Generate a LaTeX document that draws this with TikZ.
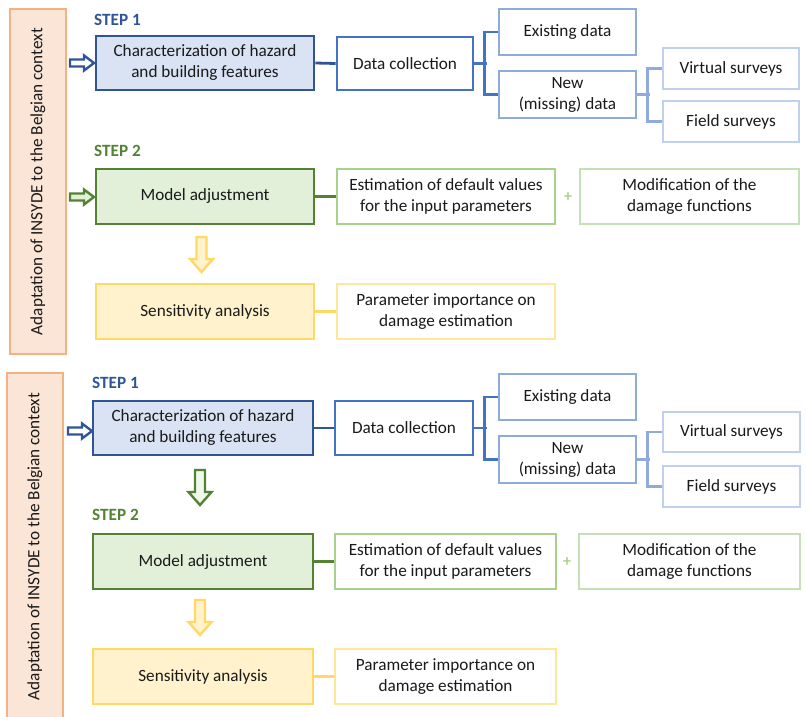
\documentclass[tikz,border=0pt]{standalone}
\usepackage{fontspec}
\setmainfont{Carlito}
\definecolor{orbd}{HTML}{F4B183}
\definecolor{orfill}{HTML}{FBE5D6}
\definecolor{bdark}{HTML}{2F5597}
\definecolor{bfill}{HTML}{DAE3F3}
\definecolor{bmid}{HTML}{4472C4}
\definecolor{blight}{HTML}{8FAADC}
\definecolor{bpale}{HTML}{C0D0EE}
\definecolor{gdark}{HTML}{548235}
\definecolor{gfill}{HTML}{E2F0D9}
\definecolor{gmid}{HTML}{A9D18E}
\definecolor{glight}{HTML}{C5E0B4}
\definecolor{ydark}{HTML}{FFD966}
\definecolor{yfill}{HTML}{FFF2CC}
\definecolor{ylight}{HTML}{FFE699}
\definecolor{txt}{HTML}{1A1A1A}
\begin{document}
\begin{tikzpicture}[x=1pt,y=-1pt,
  font=\fontsize{17.2}{21}\selectfont, text=txt,
  box/.style={draw, rectangle, line width=2.8pt, align=center, inner sep=0pt, fill=white},
  side/.style={draw=orbd, fill=orfill, line width=2pt, rectangle, inner sep=0pt, minimum width=56pt},
  steplbl/.style={anchor=west, font=\fontsize{17.2}{21}\selectfont\bfseries, inner sep=0pt},
  conn/.style={line width=2.8pt},
  rarrow/.pic={\path[pic actions] (0,-3.5) -- (14,-3.5) -- (14,-7.5) -- (24,0) -- (14,7.5) -- (14,3.5) -- (0,3.5) -- cycle;},
  darrow/.pic={\path[pic actions] (-5,0) -- (-5,22) -- (-11.5,22) -- (0,35) -- (11.5,22) -- (5,22) -- (5,0) -- cycle;},
  plus/.style={text=gmid, font=\fontsize{16}{16}\selectfont\bfseries, inner sep=0pt}
]
\useasboundingbox (0,0) rectangle (806,717);
% ---------------- top panel ----------------
\node[side, minimum height=345pt] (side1) at (38,181.5) {};
\node[rotate=90] (sidetxt1) at (side1.center) {Adaptation of INSYDE to the Belgian context};
\node[steplbl, text=bdark] (st1a) at (94,19.5) {STEP 1};
\node[box, draw=bdark, fill=bfill, minimum width=218pt, minimum height=54pt] (char1) at (205,63) {Characterization of hazard\\and building features};
\node[box, draw=bmid, minimum width=136pt, minimum height=53pt] (data1) at (405,63.5) {Data collection};
\node[box, draw=blight, minimum width=137pt, minimum height=46pt] (exist1) at (567.5,32) {Existing data};
\node[box, draw=blight, minimum width=137pt, minimum height=47pt] (new1) at (567.5,94.5) {New\\(missing) data};
\node[box, draw=bpale, minimum width=136pt, minimum height=41pt] (virt1) at (731,68.5) {Virtual surveys};
\node[box, draw=bpale, minimum width=136pt, minimum height=41pt] (field1) at (731,121.5) {Field surveys};
\node[steplbl, text=gdark] (st2a) at (94,151) {STEP 2};
\node[box, draw=gdark, fill=gfill, minimum width=218pt, minimum height=55pt] (model1) at (205,196.5) {Model adjustment};
\node[box, draw=gmid, minimum width=218pt, minimum height=55pt] (est1) at (446,196.5) {Estimation of default values\\for the input parameters};
\node[plus] (plus1) at (568,197) {+};
\node[box, draw=glight, minimum width=219pt, minimum height=55pt] (mod1) at (689.5,196.5) {Modification of the\\damage functions};
\node[box, draw=ydark, fill=yfill, minimum width=218pt, minimum height=55pt] (sens1) at (205,311.5) {Sensitivity analysis};
\node[box, draw=ylight, minimum width=218pt, minimum height=55pt] (param1) at (446,311.5) {Parameter importance on\\damage estimation};
\draw[conn, draw=bdark] (char1.east) -- (data1.west);
\draw[conn, draw=bmid] (data1.east) -- ++(13,0);
\draw[conn, draw=bmid] (exist1.west) -- ++(-13,0) |- (new1.west);
\draw[conn, draw=blight] (new1.east) -- ++(13,0);
\draw[conn, draw=blight] (virt1.west) -- ++(-14,0) |- (field1.west);
\draw[conn, draw=gdark] (model1.east) -- (est1.west);
\draw[conn, draw=ydark] (sens1.east) -- (param1.west);
\pic[draw=bdark, fill=white, line width=2.4pt] at (70,63) {rarrow};
\pic[draw=gdark, fill=gfill, line width=2.4pt] at (70,197) {rarrow};
\pic[draw=ydark, fill=yfill, line width=2.4pt] at (201.5,237) {darrow};
% ---------------- bottom panel ----------------
\node[side, minimum height=347pt] (side2) at (35,546.5) {};
\node[rotate=90] (sidetxt2) at (side2.center) {Adaptation of INSYDE to the Belgian context};
\node[steplbl, text=bdark] (st1b) at (92,383) {STEP 1};
\node[box, draw=bdark, fill=bfill, minimum width=220pt, minimum height=54pt] (char2) at (203,428) {Characterization of hazard\\and building features};
\node[box, draw=bmid, minimum width=138pt, minimum height=54pt] (data2) at (404,428) {Data collection};
\node[box, draw=blight, minimum width=137pt, minimum height=46pt] (exist2) at (567.5,397) {Existing data};
\node[box, draw=blight, minimum width=137pt, minimum height=47pt] (new2) at (567.5,459.5) {New\\(missing) data};
\node[box, draw=bpale, minimum width=137pt, minimum height=40pt] (virt2) at (731.5,432) {Virtual surveys};
\node[box, draw=bpale, minimum width=137pt, minimum height=41pt] (field2) at (731.5,486.5) {Field surveys};
\node[steplbl, text=gdark] (st2b) at (92,515) {STEP 2};
\node[box, draw=gdark, fill=gfill, minimum width=220pt, minimum height=55pt] (model2) at (203,561.5) {Model adjustment};
\node[box, draw=gmid, minimum width=221pt, minimum height=55pt] (est2) at (445.5,561.5) {Estimation of default values\\for the input parameters};
\node[plus] (plus2) at (567,562) {+};
\node[box, draw=glight, minimum width=221pt, minimum height=55pt] (mod2) at (689.5,561.5) {Modification of the\\damage functions};
\node[box, draw=ydark, fill=yfill, minimum width=220pt, minimum height=55pt] (sens2) at (203,676.5) {Sensitivity analysis};
\node[box, draw=ylight, minimum width=221pt, minimum height=55pt] (param2) at (445.5,676.5) {Parameter importance on\\damage estimation};
\draw[conn, draw=bdark] (char2.east) -- (data2.west);
\draw[conn, draw=bmid] (data2.east) -- ++(13,0);
\draw[conn, draw=bmid] (exist2.west) -- ++(-13,0) |- (new2.west);
\draw[conn, draw=blight] (new2.east) -- ++(13,0);
\draw[conn, draw=blight] (virt2.west) -- ++(-14,0) |- (field2.west);
\draw[conn, draw=gdark] (model2.east) -- (est2.west);
\draw[conn, draw=ydark] (sens2.east) -- (param2.west);
\pic[draw=bdark, fill=white, line width=2.4pt] at (68,431) {rarrow};
\pic[draw=gdark, fill=gfill!50, line width=2.4pt] at (200,470) {darrow};
\pic[draw=ydark, fill=yfill, line width=2.4pt] at (200,600) {darrow};
\end{tikzpicture}
\end{document}
